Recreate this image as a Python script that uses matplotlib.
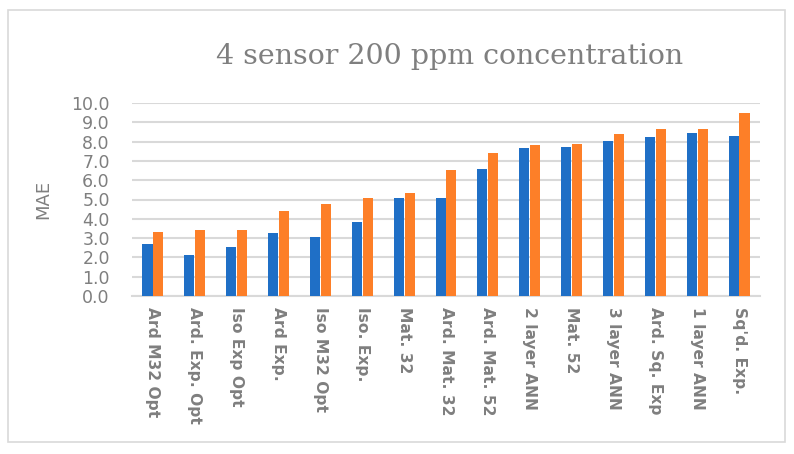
import numpy as np
import matplotlib.pyplot as plt
from matplotlib.patches import Rectangle

# categories and MAE values
methods = ['Ard M32 Opt', 'Ard. Exp. Opt', 'Iso Exp Opt', 'Ard Exp.', 'Iso M32 Opt',
           'Iso. Exp.', 'Mat. 32', 'Ard. Mat. 32', 'Ard. Mat. 52', '2 layer ANN',
           'Mat. 52', '3 layer ANN', 'Ard. Sq. Exp', '1 layer ANN', "Sq'd. Exp."]
blue_vals = [2.67, 2.15, 2.53, 3.24, 3.08, 3.85, 5.10, 5.10, 6.57, 7.68,
             7.73, 8.01, 8.25, 8.46, 8.30]
orange_vals = [3.33, 3.40, 3.40, 4.38, 4.78, 5.08, 5.32, 6.52, 7.42, 7.82,
               7.90, 8.39, 8.63, 8.63, 9.50]
yticks = np.arange(0, 10.5, 1.0)

grey = '#7f7f7f'
fig = plt.figure(figsize=(7.94, 4.54), dpi=100)

# outer chart border
fig.patches.append(Rectangle((8/794, 1-442/454), 777/794, 432/454, transform=fig.transFigure,
                             fill=False, edgecolor='#d9d9d9', linewidth=1.2))

ax = fig.add_axes([132/794, 1-296/454, 628/794, 193/454])
x = np.arange(len(methods))
w = 0.24
ax.bar(x - 0.13, blue_vals, w, color='#1f6fc6', zorder=3)
ax.bar(x + 0.13, orange_vals, w, color='#fd7f28', zorder=3)

ax.set_xlim(-0.5, len(methods) - 0.5)
ax.set_ylim(0, 10)
ax.set_yticks(yticks)
ax.set_yticklabels(['%.1f' % v for v in yticks], color=grey, fontsize=12.5)
ax.set_xticks(x)
ax.set_xticklabels(methods, rotation=-90, color=grey, fontsize=11.2, fontweight='bold',
                   va='top', ha='center')
ax.tick_params(length=0, pad=8)
ax.tick_params(axis='y', pad=16)
ax.yaxis.grid(True, color='#d9d9d9', linewidth=1.5, zorder=0)
for s in ['top', 'right', 'left']:
    ax.spines[s].set_visible(False)
ax.spines['bottom'].set_color('#d9d9d9')
ax.spines['bottom'].set_linewidth(1.5)

ax.set_ylabel('MAE', color=grey, fontsize=13, labelpad=14)
fig.text(450/794, 1-57/454, '4 sensor 200 ppm concentration', ha='center', va='center',
         fontsize=20.5, family='DejaVu Serif', color=grey)

fig.savefig('out.png', dpi=100)
